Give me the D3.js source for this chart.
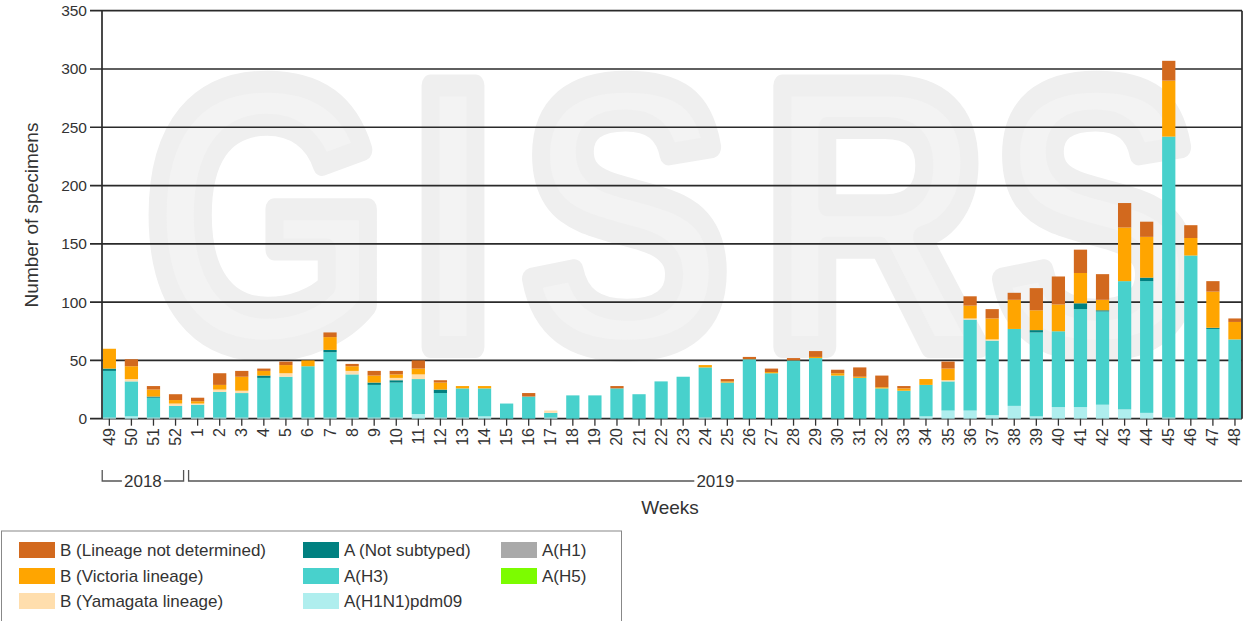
<!DOCTYPE html>
<html><head><meta charset="utf-8">
<script src="https://cdn.jsdelivr.net/npm/d3@7"></script>
<style>
body{margin:0;background:#fff;}
svg{display:block;font-family:Arial,"Liberation Sans",sans-serif;}
</style></head>
<body><svg id="chart" width="1256" height="621"></svg>
<script>
const weeks = ["49","50","51","52","1","2","3","4","5","6","7","8","9","10","11","12","13","14","15","16","17","18","19","20","21","22","23","24","25","26","27","28","29","30","31","32","33","34","35","36","37","38","39","40","41","42","43","44","45","46","47","48"];
const yTicks = [0,50,100,150,200,250,300,350];
// series values (per week, same order as weeks)
const aH1N1pdm09 = [1,2,1,1,1,1,1,1,1,1,1,1,1,1,4,1,1,2,0,0,1,0,0,0,0,0,0,1,0,0,0,0,0,0,0,0,0,2,7,7,3,11,2,10,10,12,8,5,1,0,0,0];
const aH1 = new Array(52).fill(0);
const aH3 = [40,30,17,10,11,22,21,34,35,44,56,37,28,30,30,21,25,24,13,19,4,20,20,26,21,32,36,43,31,51,39,50,52,37,35,26,24,27,25,78,64,66,72,65,84,80,110,113,241,140,77,68];
const aH5 = new Array(52).fill(0);
const aNotSubtyped = [2,0,1,0,0,0,0,2,0,0,2,0,2,2,0,3,0,0,0,0,0,0,0,0,0,0,0,0,0,0,0,0,0,0,0,0,0,0,0,0,0,0,2,0,5,1,0,3,0,0,1,0];
const bYamagata = [0,2,0,2,1,2,2,0,3,0,0,3,0,2,4,0,0,0,0,0,2,0,0,0,0,0,0,0,0,0,0,0,0,0,0,0,0,0,1,1,1,0,0,0,0,0,0,0,0,0,0,0];
const bVictoria = [17,11,6,3,2,4,12,4,7,5,11,4,6,3,5,6,2,2,0,0,0,0,0,0,0,0,0,2,1,0,1,0,1,2,1,1,2,5,10,11,18,25,17,23,26,9,46,35,48,15,31,15];
const bNotDetermined = [0,6,3,5,3,10,5,2,3,0,4,2,4,3,7,2,0,0,0,3,0,0,0,2,0,0,0,0,2,2,3,2,5,3,8,10,2,0,6,8,8,6,19,24,20,22,21,13,17,11,9,3];

const series = [
  {name:"A(H1N1)pdm09", values:aH1N1pdm09, color:"#AFEEEE"},
  {name:"A(H1)", values:aH1, color:"#A9A9A9"},
  {name:"A(H3)", values:aH3, color:"#48D1CC"},
  {name:"A(H5)", values:aH5, color:"#7CFC00"},
  {name:"A (Not subtyped)", values:aNotSubtyped, color:"#008080"},
  {name:"B (Yamagata lineage)", values:bYamagata, color:"#FFDEAD"},
  {name:"B (Victoria lineage)", values:bVictoria, color:"#FFA500"},
  {name:"B (Lineage not determined)", values:bNotDetermined, color:"#D2691E"}
];
const legendCols = [
  ["B (Lineage not determined)","B (Victoria lineage)","B (Yamagata lineage)"],
  ["A (Not subtyped)","A(H3)","A(H1N1)pdm09"],
  ["A(H1)","A(H5)"]
];

const svg = d3.select("#chart");
const axisLeft = 102, plotRight = 1242, yTop = 10.7, yBottom = 418.7;

const x = d3.scaleBand().domain(weeks).range([98.3, 1246]).paddingInner(0.4).paddingOuter(0.2);
const y = d3.scaleLinear().domain([0,350]).range([yBottom, yTop]);

// watermark
const wmLetters = [["G",266],["I",453],["S",626],["R",874],["S",1096]];
const wm = svg.append("g").attr("fill","#f3f3f3").attr("stroke","#efefef").attr("stroke-width",22)
  .attr("stroke-linejoin","round").attr("font-weight","bold").attr("font-size",380).attr("text-anchor","middle");
wmLetters.forEach(([c,cx])=>{
  wm.append("text").attr("transform",`translate(${cx},347) scale(0.82,1)`).text(c);
});

// gridlines
svg.append("g").selectAll("line").data(yTicks).join("line")
  .attr("x1",90).attr("x2",plotRight).attr("y1",d=>y(d)).attr("y2",d=>y(d))
  .attr("stroke","#2a2a2a").attr("stroke-width",1.7);
// y tick labels
svg.append("g").selectAll("text").data(yTicks).join("text")
  .attr("x",87).attr("y",d=>y(d)).attr("dy","0.35em").attr("text-anchor","end")
  .attr("font-size",15.5).attr("fill","#333").text(d=>d);

// stacked bars
const table = weeks.map((w,i)=>{const o={week:w}; series.forEach(s=>o[s.name]=s.values[i]); return o;});
const stack = d3.stack().keys(series.map(s=>s.name))(table);
svg.append("g").selectAll("g").data(stack).join("g")
  .attr("fill",(d,i)=>series[i].color)
  .selectAll("rect").data(d=>d).join("rect")
  .attr("x",d=>x(d.data.week)).attr("width",x.bandwidth())
  .attr("y",d=>y(d[1])).attr("height",d=>Math.max(0,y(d[0])-y(d[1])));

// axes lines
svg.append("line").attr("x1",axisLeft).attr("x2",axisLeft).attr("y1",yTop).attr("y2",yBottom).attr("stroke","#2a2a2a").attr("stroke-width",1.7);
svg.append("line").attr("x1",plotRight).attr("x2",plotRight).attr("y1",yTop).attr("y2",yBottom).attr("stroke","#2a2a2a").attr("stroke-width",1.7);

// x axis ticks
const xg = svg.append("g");
xg.selectAll("line").data(weeks).join("line")
  .attr("x1",d=>x(d)+x.bandwidth()/2).attr("x2",d=>x(d)+x.bandwidth()/2)
  .attr("y1",yBottom).attr("y2",yBottom+7).attr("stroke","#333").attr("stroke-width",1.3);
xg.selectAll("text").data(weeks).join("text")
  .attr("transform",d=>`translate(${x(d)+x.bandwidth()/2+5.5},${428}) rotate(-90)`)
  .attr("text-anchor","end").attr("font-size",16).attr("fill","#333").text(d=>d);

// year brackets
function bracket(x1,x2,label){
  const g = svg.append("g").attr("stroke","#555").attr("stroke-width",1.3).attr("fill","none");
  const yl = 481, cx=(x1+x2)/2, half=21;
  g.append("path").attr("d",`M${x1},470V${yl}H${cx-half}`);
  g.append("path").attr("d",`M${cx+half},${yl}H${x2}${label==="2018"?"V470":""}`);
  svg.append("text").attr("x",cx).attr("y",yl).attr("dy","0.35em").attr("text-anchor","middle")
    .attr("font-size",17).attr("fill","#333").text(label);
}
const b52 = x("52")+x.bandwidth()/2, b1 = x("1")+x.bandwidth()/2;
bracket(x("49")-0.5, (b52+b1)/2-3, "2018");
bracket((b52+b1)/2+2, plotRight, "2019");

svg.append("text").attr("x",670).attr("y",507).attr("dy","0.35em").attr("text-anchor","middle")
  .attr("font-size",19).attr("fill","#333").text("Weeks");
svg.append("text").attr("transform","translate(31,215) rotate(-90)").attr("dy","0.35em")
  .attr("text-anchor","middle").attr("font-size",19).attr("fill","#333").text("Number of specimens");

// legend
const lg = svg.append("g");
lg.append("rect").attr("x",1.5).attr("y",531).attr("width",620).attr("height",100).attr("fill","#fff").attr("stroke","#888");
const colX = [19,303,501], rowY = [550,576,601];
legendCols.forEach((col,ci)=>col.forEach((name,ri)=>{
  const s = series.find(s=>s.name===name);
  lg.append("rect").attr("x",colX[ci]).attr("y",rowY[ri]-8).attr("width",36).attr("height",16).attr("fill",s.color);
  lg.append("text").attr("x",colX[ci]+41).attr("y",rowY[ri]).attr("dy","0.35em").attr("font-size",17).attr("fill","#333").text(name);
}));
</script></body></html>
